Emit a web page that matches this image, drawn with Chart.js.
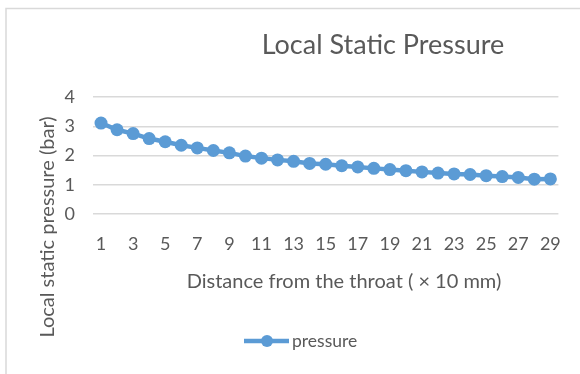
<!DOCTYPE html>
<html>
<head>
<meta charset="utf-8">
<script src="https://cdn.jsdelivr.net/npm/chart.js@4"></script>
<style>
  html, body { margin: 0; padding: 0; background: #ffffff; }
  #wrap { width: 580px; height: 374px; position: relative; }
</style>
</head>
<body>
<div id="wrap"><canvas id="c" width="580" height="374"></canvas></div>
<script>
// Distance from the throat (x 10 mm)
const distances = ['1','2','3','4','5','6','7','8','9','10','11','12','13','14','15',
                   '16','17','18','19','20','21','22','23','24','25','26','27','28','29'];
// Local static pressure (bar)
const pressure = [3.11, 2.88, 2.75, 2.58, 2.47, 2.35, 2.26, 2.17, 2.09, 1.98,
                  1.91, 1.85, 1.80, 1.73, 1.70, 1.65, 1.61, 1.56, 1.52, 1.48,
                  1.44, 1.40, 1.37, 1.35, 1.31, 1.28, 1.25, 1.19, 1.20];
const yTicks = [0, 1, 2, 3, 4];

const FONT = 'Lato, "Open Sans", sans-serif';
const TEXT = '#595959';
const BLUE = '#5B9BD5';
const GRID = '#d9d9d9';

const decor = {
  id: 'decor',
  beforeDraw(chart) {
    const ctx = chart.ctx;
    ctx.save();
    ctx.fillStyle = '#ffffff';
    ctx.fillRect(0, 0, chart.width, chart.height);
    // outer frame of the chart object
    ctx.strokeStyle = GRID;
    ctx.lineWidth = 1.5;
    ctx.beginPath();
    ctx.moveTo(6, chart.height);
    ctx.lineTo(6, 8.5);
    ctx.lineTo(chart.width, 8.5);
    ctx.stroke();
    ctx.restore();
  },
  afterDraw(chart) {
    const ctx = chart.ctx;
    ctx.save();
    ctx.fillStyle = TEXT;
    ctx.textAlign = 'center';
    ctx.textBaseline = 'middle';
    // chart title
    ctx.font = '27px ' + FONT;
    ctx.fillText('Local Static Pressure', 383, 45);
    // category axis title
    ctx.font = '20px ' + FONT;
    ctx.fillText('Distance from the throat ( \u00d7 10 mm)', 344, 282);
    // value axis title
    ctx.save();
    ctx.translate(48, 227);
    ctx.rotate(-Math.PI / 2);
    ctx.font = '20px ' + FONT;
    ctx.fillText('Local static pressure (bar)', 0, 0);
    ctx.restore();
    // legend entry
    const ds = chart.data.datasets[0];
    ctx.strokeStyle = BLUE;
    ctx.lineWidth = 4.5;
    ctx.beginPath();
    ctx.moveTo(244, 341);
    ctx.lineTo(289, 341);
    ctx.stroke();
    ctx.fillStyle = BLUE;
    ctx.beginPath();
    ctx.arc(267, 341, 6, 0, Math.PI * 2);
    ctx.fill();
    ctx.fillStyle = TEXT;
    ctx.font = '17.5px ' + FONT;
    ctx.textAlign = 'left';
    ctx.fillText(ds.label, 292, 341);
    ctx.restore();
  }
};

new Chart(document.getElementById('c'), {
  type: 'line',
  data: {
    labels: distances,
    datasets: [{
      label: 'pressure',
      data: pressure,
      borderColor: BLUE,
      backgroundColor: BLUE,
      borderWidth: 4.5,
      pointRadius: 6.5,
      pointHoverRadius: 6.5,
      pointBackgroundColor: BLUE,
      pointBorderColor: BLUE,
      pointBorderWidth: 0,
      tension: 0
    }]
  },
  options: {
    responsive: false,
    animation: false,
    events: [],
    layout: { padding: { left: 0, right: 11, top: 97, bottom: 70 } },
    plugins: {
      legend: { display: false },
      title: { display: false },
      tooltip: { enabled: false }
    },
    scales: {
      x: {
        type: 'category',
        offset: true,
        grid: { display: false, drawTicks: false },
        border: { display: false },
        afterFit(scale) { scale.height = 90; },
        ticks: {
          autoSkip: false,
          maxRotation: 0,
          padding: 19,
          color: TEXT,
          font: { family: FONT, size: 18 },
          callback(value, index) { return index % 2 === 0 ? distances[index] : ''; }
        }
      },
      y: {
        min: yTicks[0],
        max: yTicks[yTicks.length - 1],
        afterFit(scale) { scale.width = 93; },
        afterBuildTicks(scale) { scale.ticks = yTicks.map(v => ({ value: v })); },
        grid: { color: GRID, lineWidth: 1.5, drawTicks: false },
        border: { display: false },
        ticks: {
          padding: 18,
          color: TEXT,
          font: { family: FONT, size: 18 }
        }
      }
    }
  },
  plugins: [decor]
});
</script>
</body>
</html>
